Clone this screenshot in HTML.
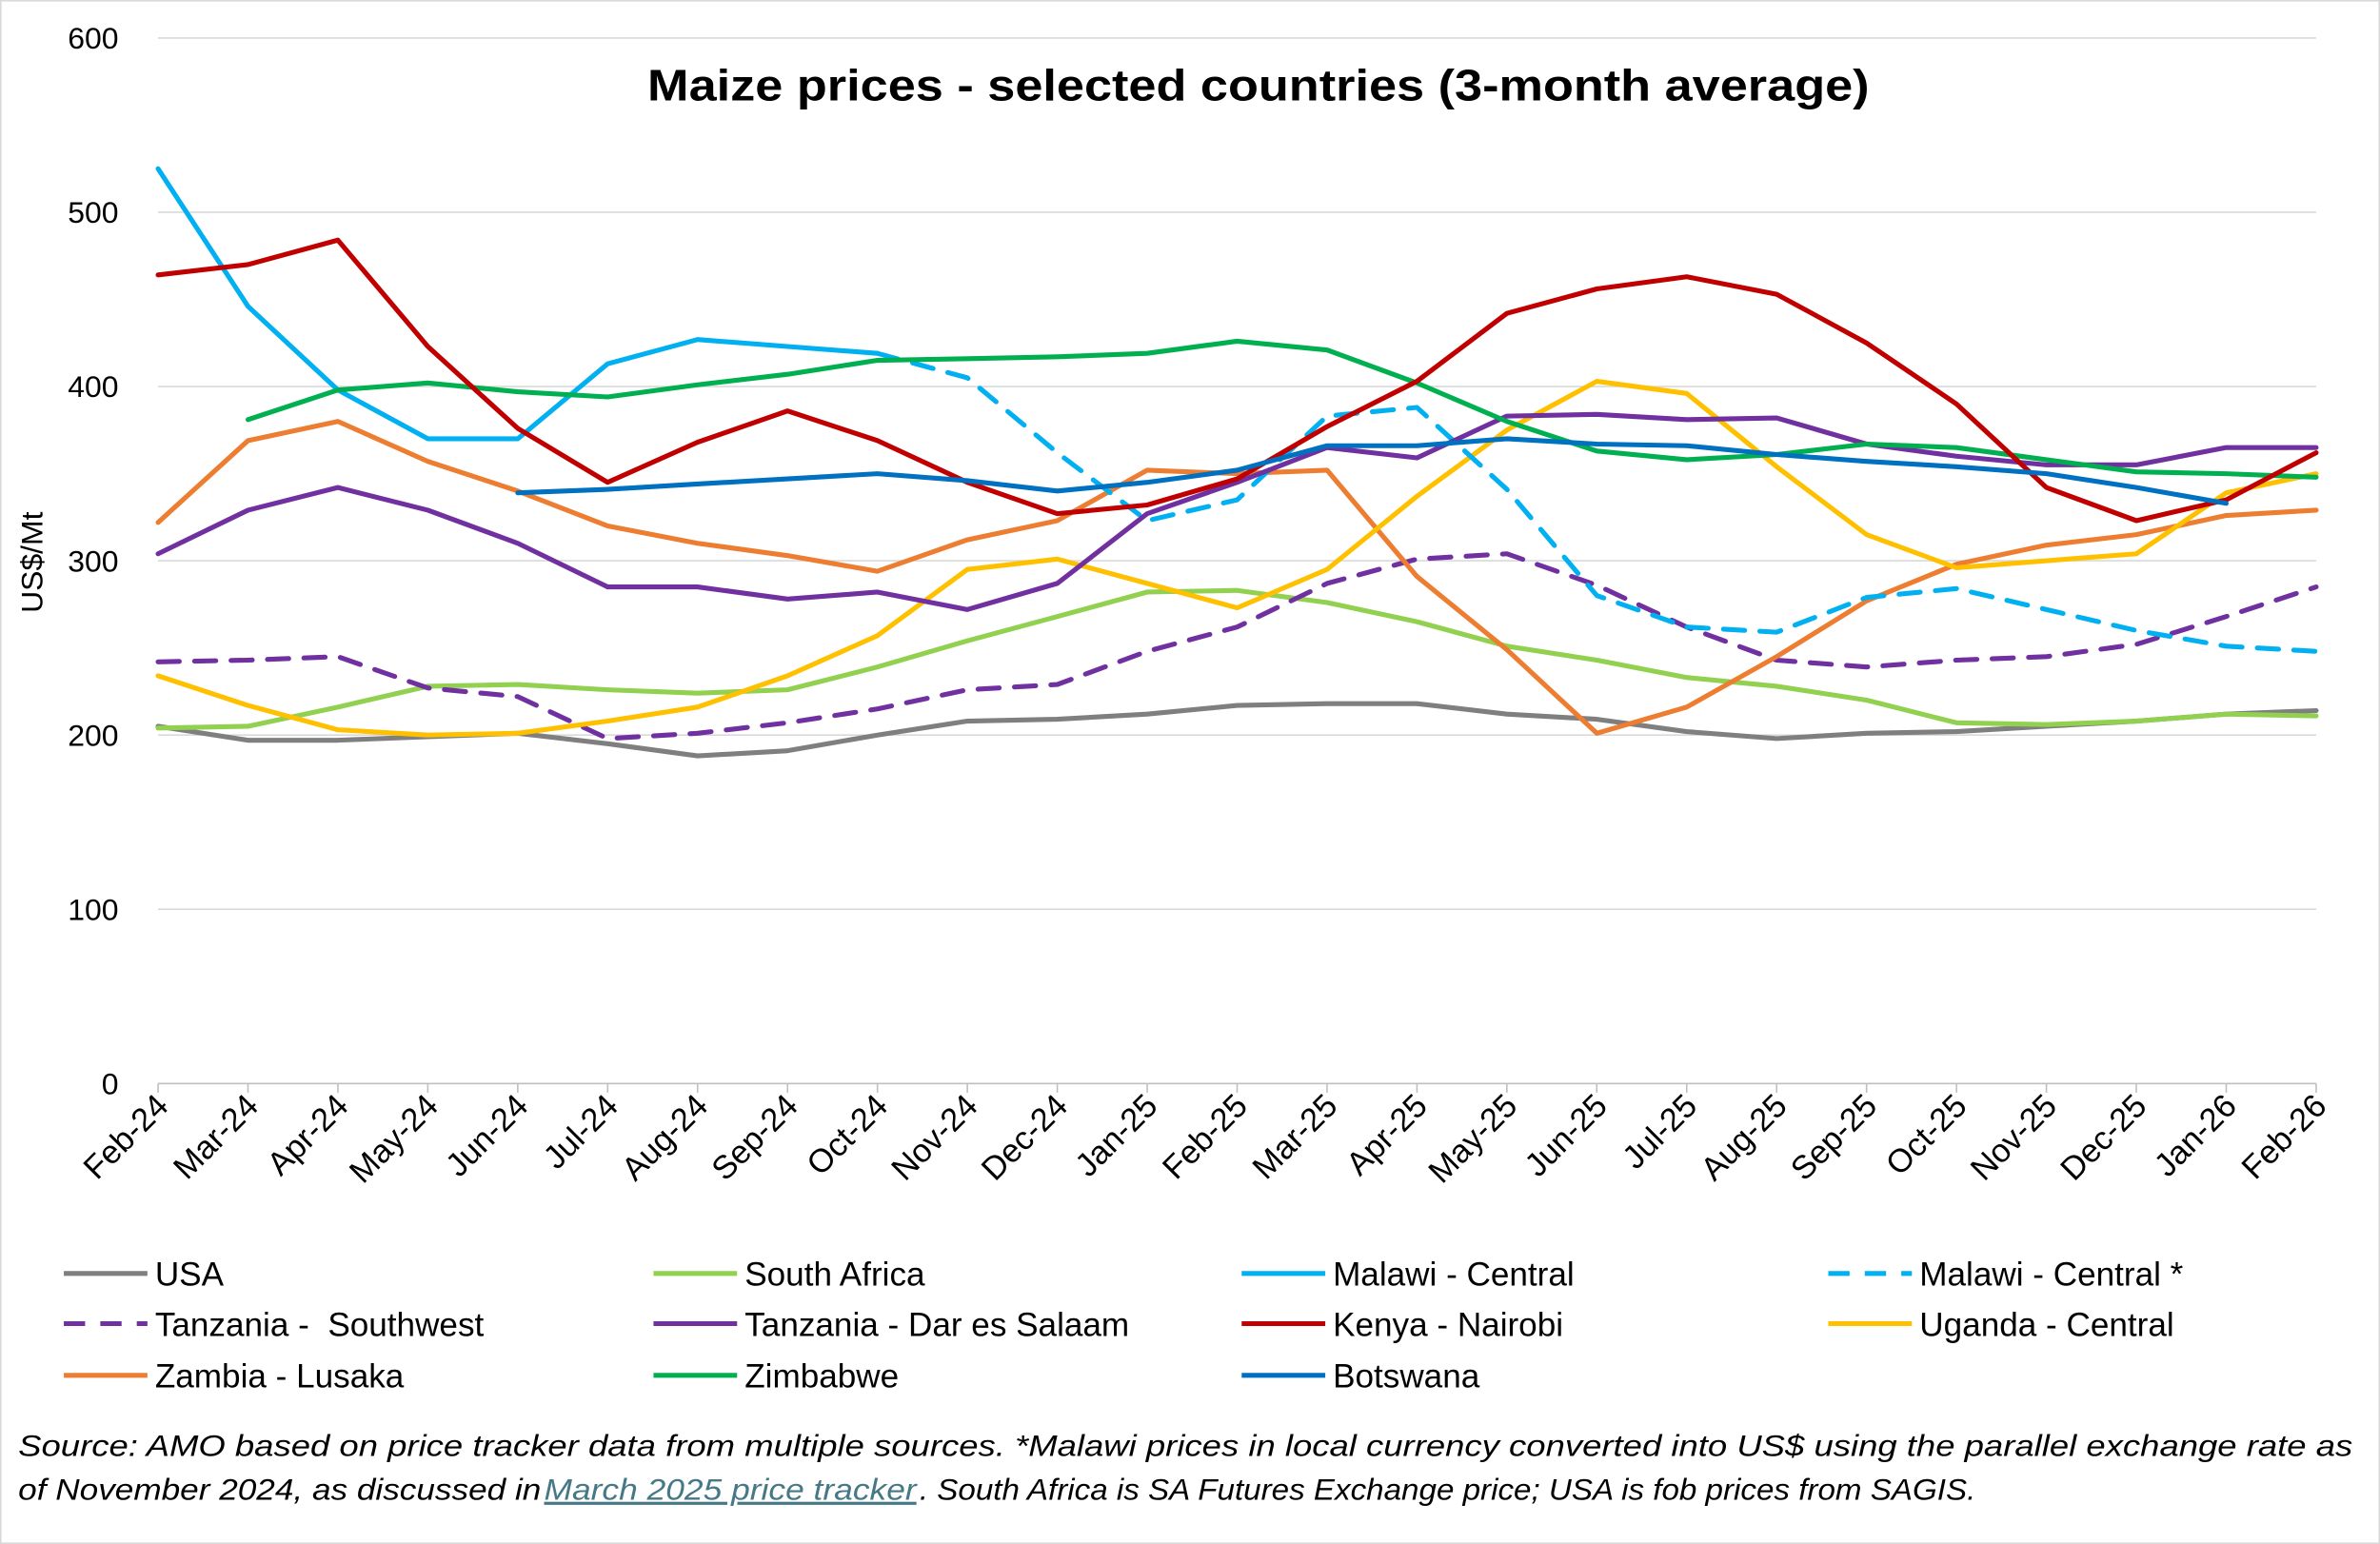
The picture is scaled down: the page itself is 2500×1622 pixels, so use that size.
<!DOCTYPE html>
<html><head><meta charset="utf-8"><style>
html,body{margin:0;padding:0;background:#fff}
svg{display:block;font-family:"Liberation Sans",Arial,sans-serif}
</style></head><body>
<svg id="chart" width="2500" height="1622" viewBox="0 0 1566 1016" xmlns="http://www.w3.org/2000/svg">
<rect x="0.5" y="0.5" width="1565" height="1015" fill="#fff" stroke="#d9d9d9"/>
<text x="426" y="66" font-size="29" font-weight="bold" textLength="804" lengthAdjust="spacingAndGlyphs">Maize prices - selected countries (3-month average)</text>
<text transform="translate(28,370) rotate(-90)" text-anchor="middle" font-size="20">US$/Mt</text>
<g id="grid"></g><g id="yticks"></g><g id="xticks"></g><g id="series"></g><g id="legend"></g>
<g font-size="20" font-style="italic">
<text x="12" y="958" textLength="1536" lengthAdjust="spacingAndGlyphs">Source: AMO based on price tracker data from multiple sources. *Malawi prices in local currency converted into US$ using the parallel exchange rate as</text>
<text x="12" y="987" textLength="344" lengthAdjust="spacingAndGlyphs">of November 2024, as discussed in</text>
<text x="358" y="987" textLength="245" lengthAdjust="spacingAndGlyphs" fill="#467886" text-decoration="underline">March 2025 price tracker </text>
<text x="605" y="987" textLength="695" lengthAdjust="spacingAndGlyphs">. South Africa is SA Futures Exchange price; USA is fob prices from SAGIS.</text>
</g>
</svg>
<script>
const months=["Feb-24","Mar-24","Apr-24","May-24","Jun-24","Jul-24","Aug-24","Sep-24","Oct-24","Nov-24","Dec-24","Jan-25","Feb-25","Mar-25","Apr-25","May-25","Jun-25","Jul-25","Aug-25","Sep-25","Oct-25","Nov-25","Dec-25","Jan-26","Feb-26"];
const yTicks=[0,100,200,300,400,500,600];
const N=null;
const usa=[205,197,197,199,201,195,188,191,200,208,209,212,217,218,218,212,209,202,198,201,202,205,208,212,214];
const southAfrica=[204,205,216,228,229,226,224,226,239,254,268,282,283,276,265,251,243,233,228,220,207,206,208,212,211];
const malawi=[525,446,398,370,370,413,427,423,419,N,N,N,N,N,N,N,N,N,N,N,N,N,N,N,N];
const malawiStar=[N,N,N,N,N,N,N,N,419,405,362,323,335,383,388,341,280,262,259,279,284,272,260,251,248];
const tanzaniaSW=[242,243,245,227,222,198,201,207,215,226,229,248,262,287,301,304,286,262,243,239,243,245,252,268,285];
const tanzaniaDar=[304,329,342,329,310,285,285,278,282,272,287,327,345,365,359,383,384,381,382,367,360,355,355,365,365];
const kenya=[464,470,484,423,376,345,368,386,369,345,327,332,347,377,403,442,456,463,453,425,390,342,323,335,362];
const uganda=[234,217,203,200,201,208,216,234,257,295,301,287,273,295,337,375,403,396,354,315,296,300,304,339,350];
const zambia=[322,369,380,357,340,320,310,303,294,312,323,352,350,352,291,249,201,216,245,277,298,309,315,326,329];
const zimbabwe=[N,381,398,402,397,394,401,407,415,416,417,419,426,421,402,380,363,358,361,367,365,358,351,350,348];
const botswana=[N,N,N,N,339,341,344,347,350,346,340,345,352,366,366,370,367,366,361,357,354,350,342,333,N];

const NS="http://www.w3.org/2000/svg";
const X0=104,X1=1524,Y0=713,Y1=25,VMAX=600;
const xs=i=>X0+i*(X1-X0)/(months.length-1);
const ys=v=>Y0-v*(Y0-Y1)/VMAX;
function mk(tag,attrs,parent){const e=document.createElementNS(NS,tag);for(const k in attrs)e.setAttribute(k,attrs[k]);parent.appendChild(e);return e;}
const grid=document.getElementById('grid'),yt=document.getElementById('yticks'),xt=document.getElementById('xticks'),ser=document.getElementById('series'),leg=document.getElementById('legend');
yTicks.forEach(v=>{
  const l=mk('line',{x1:X0,x2:X1,y1:ys(v),y2:ys(v),stroke:v===0?'#bfbfbf':'#d9d9d9','stroke-width':1},grid);
  
  
  const t=mk('text',{x:78,y:ys(v)+7,'text-anchor':'end','font-size':20},yt);
  t.textContent=v;
  
  
});
months.forEach((m,i)=>{
  const tk=mk('line',{x1:xs(i),x2:xs(i),y1:Y0,y2:Y0+6,stroke:'#bfbfbf'},xt);
  
  
  const t=mk('text',{transform:`translate(${xs(i)+8},${Y0+16}) rotate(-45)`,'text-anchor':'end','font-size':21.5},xt);
  t.textContent=m;
  
  
});
const seriesDefs=[
 ["USA",usa,"#7f7f7f",false],
 ["South Africa",southAfrica,"#92d050",false],
 ["Malawi - Central",malawi,"#00b0f0",false],
 ["Malawi - Central *",malawiStar,"#00b0f0",true],
 ["Tanzania -\u00a0 Southwest",tanzaniaSW,"#7030a0",true],
 ["Tanzania - Dar es Salaam",tanzaniaDar,"#7030a0",false],
 ["Kenya - Nairobi",kenya,"#c00000",false],
 ["Uganda - Central",uganda,"#ffc000",false],
 ["Zambia - Lusaka",zambia,"#ed7d31",false],
 ["Zimbabwe",zimbabwe,"#00b050",false],
 ["Botswana",botswana,"#0070c0",false]];
const drawOrder=[0,1,4,8,7,2,3,5,9,6,10];
drawOrder.forEach(k=>{
  const [name,vals,col,dash]=seriesDefs[k];
  let d='',pen=false;
  vals.forEach((v,i)=>{if(v===null){pen=false;return;}d+=(pen?'L':'M')+xs(i).toFixed(1)+','+ys(v).toFixed(1);pen=true;});
  const p=mk('path',{d:d,fill:'none',stroke:col,'stroke-width':3.2,'stroke-linejoin':'round','stroke-linecap':'round'},ser);
  if(dash)p.setAttribute('stroke-dasharray','14,10');
  
  
});
const colX=[42,430,817,1203],rowY=[838,871,905];
seriesDefs.forEach((s,i)=>{
  const cx=colX[i%4],cy=rowY[Math.floor(i/4)];
  const g=mk('g',{},leg);
  
  
  const l=mk('line',{x1:cx,x2:cx+55,y1:cy,y2:cy,stroke:s[2],'stroke-width':3.2},g);
  if(s[3])l.setAttribute('stroke-dasharray','14,10');
  const t=mk('text',{x:cx+60,y:cy+8,'font-size':22},g);
  t.textContent=s[0];
});
</script>
</body></html>
